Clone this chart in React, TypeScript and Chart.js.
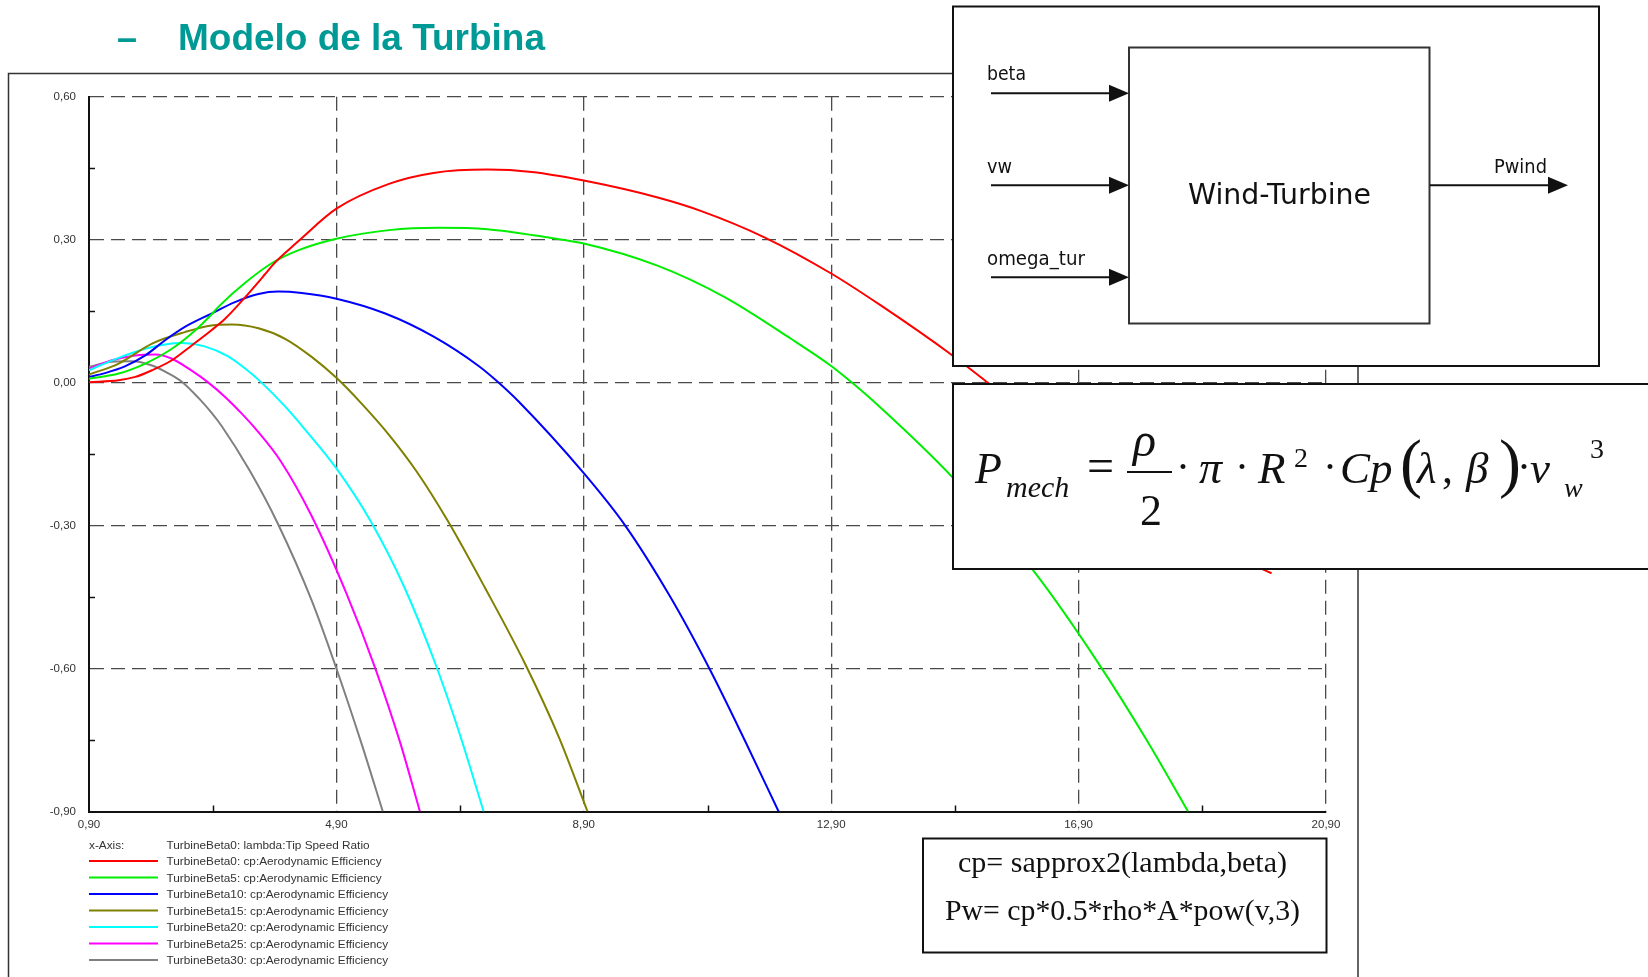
import React, { useEffect, useRef } from "react";
import { Chart, registerables } from "chart.js";

Chart.register(...registerables);

const PAGE_W = 1648;
const PAGE_H = 977;
const SANS = '"Liberation Sans", Arial, sans-serif';
const SERIF = '"Liberation Serif", "Times New Roman", serif';
const DIAG = '"DejaVu Sans", sans-serif';

// ---- axes ----
const xMin = 0.9;
const xMax = 20.9;
const xMajorTicks = [0.9, 4.9, 8.9, 12.9, 16.9, 20.9];
const xTickLabels = ["0,90", "4,90", "8,90", "12,90", "16,90", "20,90"];
const xMinorTicks = [2.9, 6.9, 10.9, 14.9, 18.9];
const yMin = -0.9;
const yMax = 0.6;
const yMajorTicks = [0.6, 0.3, 0, -0.3, -0.6, -0.9];
const yTickLabels = ["0,60", "0,30", "0,00", "-0,30", "-0,60", "-0,90"];
const yMinorTicks = [0.45, 0.15, -0.15, -0.45, -0.75];

// ---- series ----
const xAxisLegend = "TurbineBeta0: lambda:Tip Speed Ratio";
const seriesLabels = [
  "TurbineBeta0: cp:Aerodynamic Efficiency",
  "TurbineBeta5: cp:Aerodynamic Efficiency",
  "TurbineBeta10: cp:Aerodynamic Efficiency",
  "TurbineBeta15: cp:Aerodynamic Efficiency",
  "TurbineBeta20: cp:Aerodynamic Efficiency",
  "TurbineBeta25: cp:Aerodynamic Efficiency",
  "TurbineBeta30: cp:Aerodynamic Efficiency",
];
const seriesColors = ["#ff0000", "#00ee00", "#0000ff", "#808000", "#00ffff", "#ff00ff", "#808080"];

const lambdaBeta0 = [0.9, 1.38, 1.65, 1.92, 2.24, 2.56, 2.88, 3.1, 3.43, 3.75, 3.88, 4.13, 4.31, 4.9, 5.75, 6.47, 7.34, 8.06, 8.9, 10.08, 10.8, 11.82, 12.9, 13.69, 14.85, 15.43, 16.2, 17.1, 18.0, 19.0, 20.02];
const cpBeta0 = [0.001, 0.005, 0.012, 0.026, 0.047, 0.078, 0.11, 0.134, 0.18, 0.228, 0.248, 0.279, 0.3, 0.365, 0.417, 0.44, 0.447, 0.442, 0.424, 0.389, 0.36, 0.305, 0.229, 0.163, 0.058, 0.0, -0.08, -0.17, -0.26, -0.34, -0.4];

const lambdaBeta5 = [0.9, 1.38, 1.81, 2.24, 2.62, 2.88, 3.0, 3.43, 3.86, 4.29, 4.9, 5.75, 6.55, 7.34, 8.35, 8.9, 10.08, 11.17, 12.25, 12.9, 13.19, 13.55, 14.87, 16.2, 17.2, 18.0, 18.67];
const cpBeta5 = [0.008, 0.019, 0.04, 0.071, 0.11, 0.143, 0.16, 0.21, 0.251, 0.278, 0.302, 0.32, 0.325, 0.322, 0.304, 0.292, 0.246, 0.18, 0.092, 0.035, 0.005, -0.035, -0.2, -0.4, -0.585, -0.75, -0.9];

const lambdaBeta10 = [0.9, 1.16, 1.48, 1.81, 2.13, 2.45, 2.88, 3.26, 3.64, 3.96, 4.34, 4.9, 5.69, 6.48, 7.2, 7.48, 7.85, 8.9, 9.57, 10.3, 10.93, 11.5, 12.05];
const cpBeta10 = [0.012, 0.02, 0.034, 0.057, 0.089, 0.117, 0.145, 0.169, 0.186, 0.191, 0.188, 0.176, 0.145, 0.096, 0.035, 0.005, -0.04, -0.19, -0.3, -0.45, -0.6, -0.75, -0.9];

const lambdaBeta15 = [0.9, 1.38, 1.92, 2.45, 2.88, 3.21, 3.64, 4.07, 4.5, 4.9, 5.3, 5.74, 6.2, 6.7, 7.3, 7.95, 8.5, 8.96];
const cpBeta15 = [0.017, 0.04, 0.082, 0.106, 0.12, 0.122, 0.114, 0.092, 0.054, 0.01, -0.043, -0.108, -0.187, -0.29, -0.43, -0.59, -0.745, -0.9];

const lambdaBeta20 = [0.9, 1.38, 1.81, 2.13, 2.4, 2.77, 3.15, 3.42, 3.69, 4.07, 4.39, 4.9, 5.45, 6.0, 6.5, 6.9, 7.28];
const cpBeta20 = [0.026, 0.052, 0.071, 0.08, 0.083, 0.076, 0.055, 0.03, 0.0, -0.05, -0.098, -0.18, -0.29, -0.43, -0.59, -0.74, -0.9];

const lambdaBeta25 = [0.9, 1.27, 1.65, 1.97, 2.24, 2.56, 2.83, 3.1, 3.37, 3.58, 4.0, 4.5, 5.07, 5.53, 5.93, 6.25];
const cpBeta25 = [0.029, 0.047, 0.057, 0.059, 0.05, 0.025, 0.0, -0.03, -0.065, -0.095, -0.165, -0.28, -0.445, -0.6, -0.755, -0.9];

const lambdaBeta30 = [0.9, 1.27, 1.6, 1.92, 2.19, 2.4, 2.67, 2.88, 3.05, 3.5, 3.95, 4.5, 4.9, 5.3, 5.65];
const cpBeta30 = [0.033, 0.044, 0.045, 0.036, 0.019, 0.002, -0.032, -0.063, -0.092, -0.185, -0.295, -0.457, -0.6, -0.755, -0.9];

const seriesX = [lambdaBeta0, lambdaBeta5, lambdaBeta10, lambdaBeta15, lambdaBeta20, lambdaBeta25, lambdaBeta30];
const seriesY = [cpBeta0, cpBeta5, cpBeta10, cpBeta15, cpBeta20, cpBeta25, cpBeta30];

const findTick = (ticks: number[], v: number) => ticks.findIndex((t) => Math.abs(t - v) < 1e-6);

const minorTicksPlugin = {
  id: "minorTicks",
  afterDatasetsDraw(chart: any) {
    const { ctx, chartArea, scales } = chart;
    const xs = scales.x;
    const ys = scales.y;
    ctx.save();
    ctx.strokeStyle = "#111";
    ctx.lineWidth = 1.5;
    xMinorTicks.forEach((v) => {
      const px = Math.round(xs.getPixelForValue(v)) + 0.5;
      ctx.beginPath();
      ctx.moveTo(px, chartArea.bottom);
      ctx.lineTo(px, chartArea.bottom - 6);
      ctx.stroke();
    });
    yMinorTicks.forEach((v) => {
      const py = Math.round(ys.getPixelForValue(v)) + 0.5;
      ctx.beginPath();
      ctx.moveTo(chartArea.left, py);
      ctx.lineTo(chartArea.left + 6, py);
      ctx.stroke();
    });
    ctx.restore();
  },
};

function CpChart() {
  const ref = useRef<HTMLCanvasElement | null>(null);
  useEffect(() => {
    if (!ref.current) return;
    const chart = new Chart(ref.current, {
      type: "line",
      data: {
        datasets: seriesLabels.map((label, k) => ({
          label,
          data: seriesX[k].map((x, i) => ({ x, y: seriesY[k][i] })),
          borderColor: seriesColors[k],
          backgroundColor: seriesColors[k],
          borderWidth: 2,
          pointRadius: 0,
          fill: false,
          cubicInterpolationMode: "monotone" as const,
        })),
      },
      options: {
        animation: false,
        responsive: false,
        devicePixelRatio: 1,
        layout: { padding: { left: 0, top: 96.7, right: 322, bottom: 135.5 } },
        plugins: { legend: { display: false }, tooltip: { enabled: false } },
        scales: {
          x: {
            type: "linear",
            min: xMin,
            max: xMax,
            afterFit: (s: any) => {
              s.height = 30;
            },
            ticks: {
              stepSize: 2,
              autoSkip: false,
              maxRotation: 0,
              minRotation: 0,
              padding: 6,
              color: "#333",
              font: { family: SANS, size: 11.5 },
              callback: (v: any) => {
                const i = findTick(xMajorTicks, Number(v));
                return i >= 0 ? xTickLabels[i] : "";
              },
            },
            grid: {
              drawTicks: false,
              lineWidth: 1.3,
              color: (c: any) => {
                const i = c.tick ? findTick(xMajorTicks, c.tick.value) : -1;
                return i > 0 ? "#4a4a4a" : "rgba(0,0,0,0)";
              },
            },
            border: { display: true, color: "#111", width: 2, dash: [14, 7] },
          },
          y: {
            type: "linear",
            min: yMin,
            max: yMax,
            afterFit: (s: any) => {
              s.width = 89;
            },
            ticks: {
              stepSize: 0.15,
              autoSkip: false,
              padding: 13,
              color: "#333",
              font: { family: SANS, size: 11.5 },
              callback: (v: any) => {
                const i = findTick(yMajorTicks, Number(v));
                return i >= 0 ? yTickLabels[i] : "";
              },
            },
            grid: {
              drawTicks: false,
              lineWidth: 1.3,
              color: (c: any) => {
                const i = c.tick ? findTick(yMajorTicks, c.tick.value) : -1;
                return i >= 0 && i < yMajorTicks.length - 1 ? "#4a4a4a" : "rgba(0,0,0,0)";
              },
            },
            border: { display: true, color: "#111", width: 2, dash: [14, 7] },
          },
        },
      },
      plugins: [minorTicksPlugin],
    } as any);
    return () => chart.destroy();
  }, []);
  return (
    <canvas
      ref={ref}
      width={PAGE_W}
      height={PAGE_H}
      style={{ position: "fixed", left: 0, top: 0, width: PAGE_W, height: PAGE_H }}
    />
  );
}

function Overlay() {
  const legendRowY0 = 848.5;
  const legendStep = 16.5;
  const arrowHead = (x: number, y: number) => `${x - 20},${y - 8.5} ${x},${y} ${x - 20},${y + 8.5}`;
  return (
    <svg
      width={PAGE_W}
      height={PAGE_H}
      style={{ position: "fixed", left: 0, top: 0, pointerEvents: "none" }}
    >
      {/* chart frame */}
      <path d="M8.5 977 L8.5 73.5 L1358 73.5 L1358 977" fill="none" stroke="#333" strokeWidth={1.5} />

      {/* title */}
      <text x={117} y={50} fontFamily={SANS} fontWeight="bold" fontSize={36} fill="#009a96">–</text>
      <text x={178} y={50} fontFamily={SANS} fontWeight="bold" fontSize={36} fill="#009a96" textLength={367} lengthAdjust="spacingAndGlyphs">
        Modelo de la Turbina
      </text>

      {/* legend */}
      <text x={89} y={legendRowY0} fontFamily={SANS} fontSize={11.8} fill="#333">x-Axis:</text>
      <text x={166.5} y={legendRowY0} fontFamily={SANS} fontSize={11.8} fill="#333">{xAxisLegend}</text>
      {seriesLabels.map((lab, k) => {
        const y = legendRowY0 + legendStep * (k + 1);
        return (
          <g key={lab}>
            <line x1={89} x2={158} y1={y - 4} y2={y - 4} stroke={seriesColors[k]} strokeWidth={2} />
            <text x={166.5} y={y} fontFamily={SANS} fontSize={11.8} fill="#333">{lab}</text>
          </g>
        );
      })}

      {/* block diagram */}
      <rect x={953} y={6.5} width={646} height={359.5} fill="#fff" stroke="#111" strokeWidth={2} />
      <rect x={1129} y={47.5} width={300.5} height={276} fill="#fff" stroke="#333" strokeWidth={2} />
      <text x={1279.5} y={204} textAnchor="middle" fontFamily={DIAG} fontSize={28} fill="#111" textLength={183} lengthAdjust="spacingAndGlyphs">Wind-Turbine</text>
      <text x={987} y={80} fontFamily={DIAG} fontSize={19} fill="#111" textLength={39} lengthAdjust="spacingAndGlyphs">beta</text>
      <text x={987} y={172.5} fontFamily={DIAG} fontSize={19} fill="#111" textLength={25} lengthAdjust="spacingAndGlyphs">vw</text>
      <text x={987} y={265} fontFamily={DIAG} fontSize={19} fill="#111" textLength={98} lengthAdjust="spacingAndGlyphs">omega_tur</text>
      <text x={1494} y={172.5} fontFamily={DIAG} fontSize={19} fill="#111" textLength={53} lengthAdjust="spacingAndGlyphs">Pwind</text>
      {[93.3, 185.3, 277.3].map((y) => (
        <g key={y}>
          <line x1={991} x2={1112} y1={y} y2={y} stroke="#111" strokeWidth={2} />
          <polygon points={arrowHead(1129, y)} fill="#111" />
        </g>
      ))}
      <line x1={1430} x2={1550} y1={185.3} y2={185.3} stroke="#111" strokeWidth={2} />
      <polygon points={arrowHead(1568, 185.3)} fill="#111" />

      {/* power formula */}
      <rect x={953} y={384} width={720} height={185} fill="#fff" stroke="#111" strokeWidth={2} />
      <g fontFamily={SERIF} fill="#111">
        <text x={975} y={483} fontSize={44} fontStyle="italic">P</text>
        <text x={1006} y={497} fontSize={30} fontStyle="italic">mech</text>
        <text x={1087} y={482} fontSize={48}>=</text>
        <text x={1133} y={456} fontSize={48} fontStyle="italic">ρ</text>
        <line x1={1127} x2={1172} y1={472} y2={472} stroke="#111" strokeWidth={2} />
        <text x={1140} y={525} fontSize={44}>2</text>
        <text x={1176} y={481} fontSize={42}>·</text>
        <text x={1199} y={483} fontSize={46} fontStyle="italic">π</text>
        <text x={1235} y={481} fontSize={42}>·</text>
        <text x={1258} y={483} fontSize={45} fontStyle="italic">R</text>
        <text x={1294} y={467} fontSize={28}>2</text>
        <text x={1323} y={481} fontSize={42}>·</text>
        <text x={1340} y={483} fontSize={45} fontStyle="italic">Cp</text>
        <text x={1400} y={485} fontSize={66}>(</text>
        <text x={1417} y={483} fontSize={45} fontStyle="italic">λ</text>
        <text x={1442} y={483} fontSize={44}>,</text>
        <text x={1466} y={483} fontSize={45} fontStyle="italic">β</text>
        <text x={1499} y={485} fontSize={66}>)</text>
        <text x={1517} y={481} fontSize={42}>·</text>
        <text x={1530} y={483} fontSize={45} fontStyle="italic">v</text>
        <text x={1564} y={497} fontSize={28} fontStyle="italic">w</text>
        <text x={1590} y={458} fontSize={28}>3</text>
      </g>

      {/* cp box */}
      <rect x={923} y={838.5} width={403.5} height={114} fill="#fff" stroke="#111" strokeWidth={2} />
      <text x={958} y={872} fontFamily={SERIF} fontSize={29} fill="#111" textLength={329} lengthAdjust="spacingAndGlyphs">cp= sapprox2(lambda,beta)</text>
      <text x={945} y={920} fontFamily={SERIF} fontSize={29} fill="#111" textLength={355} lengthAdjust="spacingAndGlyphs">Pw= cp*0.5*rho*A*pow(v,3)</text>
    </svg>
  );
}

export default function App() {
  return (
    <div style={{ position: "fixed", left: 0, top: 0, width: PAGE_W, height: PAGE_H, background: "#fff", overflow: "hidden" }}>
      <CpChart />
      <Overlay />
    </div>
  );
}
